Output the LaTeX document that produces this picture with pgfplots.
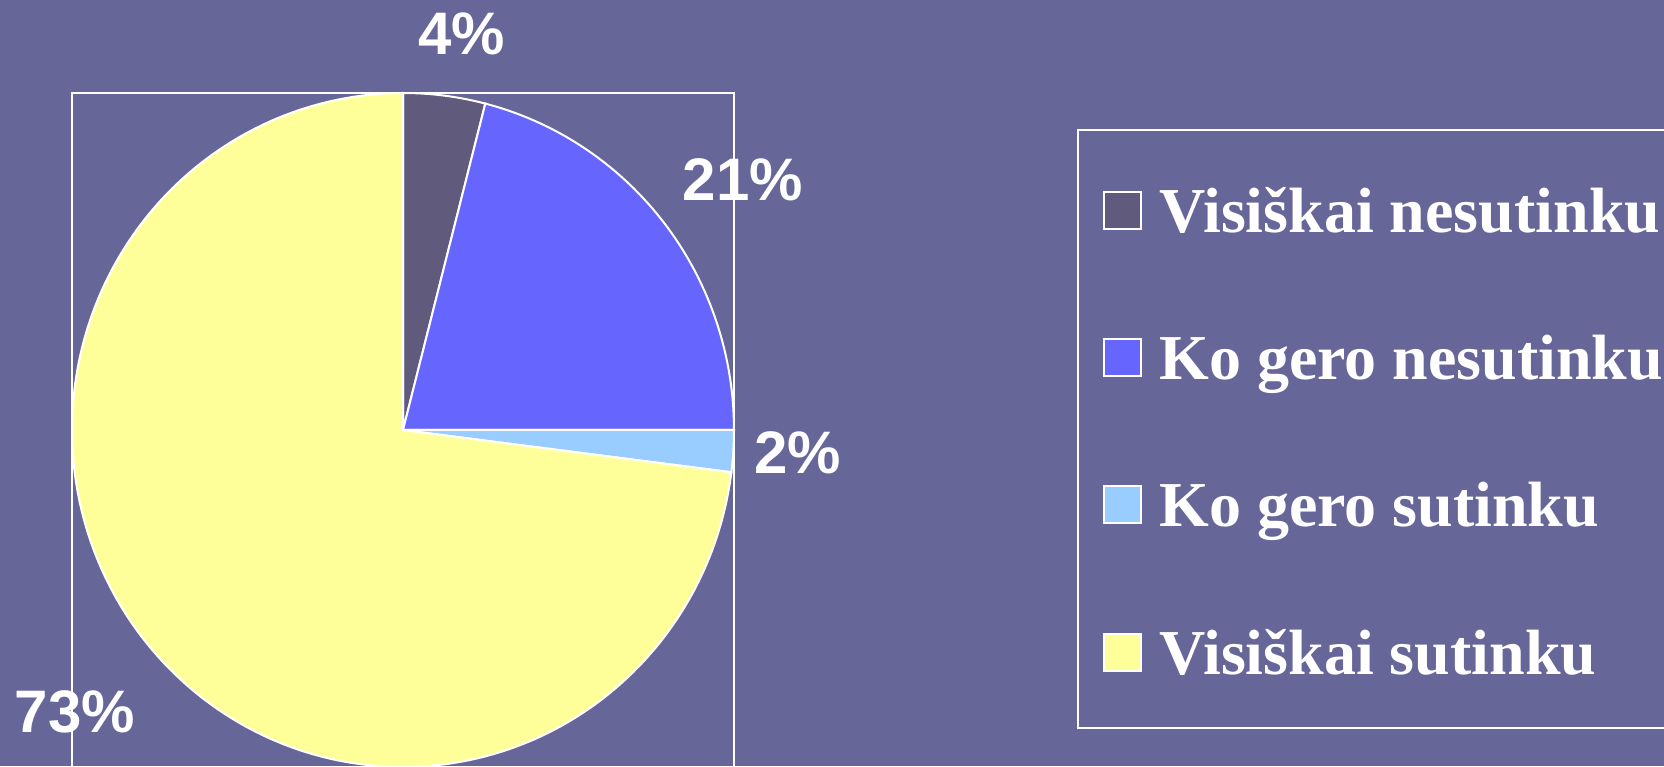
\documentclass[border=0pt]{standalone}
\usepackage{pgfplots}
\pgfplotsset{compat=1.18}
\usepackage{pgfplotstable}
\usepackage{fontspec}
\setmainfont{Liberation Serif}
\newfontfamily\labfont{Liberation Sans}
\definecolor{bg}{RGB}{102,102,153}
\definecolor{cA}{RGB}{96,90,124}
\definecolor{cB}{RGB}{102,102,255}
\definecolor{cC}{RGB}{153,204,255}
\definecolor{cD}{RGB}{255,255,153}
\pgfplotstableread{
value
4
21
2
73
}\piedata
\begin{document}
\begin{tikzpicture}[x=1pt,y=1pt]
\fill[bg] (0,0) rectangle (832,383);
\path[use as bounding box] (0,0) rectangle (832,383);
\draw[white, line width=1pt] (539,19) rectangle (900,318);
\pgfplotstablegetelem{0}{value}\of\piedata \let\vA\pgfplotsretval
\pgfplotstablegetelem{1}{value}\of\piedata \let\vB\pgfplotsretval
\pgfplotstablegetelem{2}{value}\of\piedata \let\vC\pgfplotsretval
\pgfplotstablegetelem{3}{value}\of\piedata \let\vD\pgfplotsretval
\pgfmathsetmacro\aA{90}
\pgfmathsetmacro\aB{\aA-3.6*\vA}
\pgfmathsetmacro\aC{\aB-3.6*\vB}
\pgfmathsetmacro\aD{\aC-3.6*\vC}
\pgfmathsetmacro\aE{\aD-3.6*\vD}
\begin{axis}[
  anchor=origin, at={(201.5pt,168pt)},
  scale only axis, width=331pt, height=337pt,
  xmin=-1, xmax=1, ymin=-1, ymax=1,
  xtick=\empty, ytick=\empty,
  axis line style={white, line width=1pt},
  clip=false,
  legend image code/.code={\draw[#1, draw=white, line width=1pt] (0pt,-6.25pt) rectangle (18.5pt,12.25pt);},
  legend cell align=left,
  legend style={draw=none, fill=none, anchor=north west,
    at={(1.5574,0.865)}, inner sep=0pt,
    font=\bfseries\fontsize{32}{38}\selectfont\color{white},
    row sep=41.65pt, column sep=8.5pt,
    nodes={inner sep=0pt, text height=24pt, text depth=8pt}},
]
\addplot[fill=cA, draw=white, line width=1pt, domain=\aB:\aA, samples=30] ({cos(x)},{sin(x)}) -- (axis cs:0,0) -- cycle;
\addlegendentry{Visiškai nesutinku}
\addplot[fill=cB, draw=white, line width=1pt, domain=\aC:\aB, samples=60] ({cos(x)},{sin(x)}) -- (axis cs:0,0) -- cycle;
\addlegendentry{Ko gero nesutinku}
\addplot[fill=cC, draw=white, line width=1pt, domain=\aD:\aC, samples=20] ({cos(x)},{sin(x)}) -- (axis cs:0,0) -- cycle;
\addlegendentry{Ko gero sutinku}
\addplot[fill=cD, draw=white, line width=1pt, domain=\aE:\aD, samples=150] ({cos(x)},{sin(x)}) -- (axis cs:0,0) -- cycle;
\addlegendentry{Visiškai sutinku}
\begin{scope}[every node/.style={text=white, font=\labfont\bfseries\fontsize{30}{36}\selectfont}]
\node at (axis cs:0.178,1.175) {4\%};
\node at (axis cs:1.027,0.742) {21\%};
\node at (axis cs:1.193,-0.068) {2\%};
\node at (axis cs:-0.991,-0.837) {73\%};
\end{scope}
\end{axis}
\end{tikzpicture}
\end{document}
